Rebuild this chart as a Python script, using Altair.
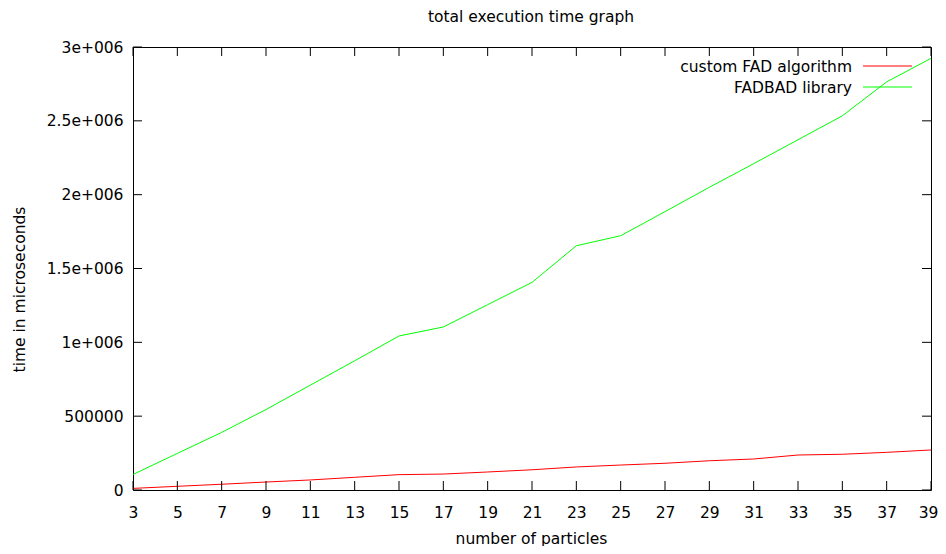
import altair as alt
import pandas as pd

# ---- data ----
particles = [3, 5, 7, 9, 11, 13, 15, 17, 19, 21, 23, 25, 27, 29, 31, 33, 35, 37, 39]
custom_fad = [11000, 25000, 39000, 54000, 68000, 86000, 104000, 108000, 122000, 137000,
              156000, 169000, 181000, 198000, 210000, 237000, 242000, 255000, 271000]
fadbad = [105000, 248000, 390000, 545000, 710000, 875000, 1043000, 1104000, 1255000, 1406000,
          1654000, 1722000, 1885000, 2050000, 2210000, 2372000, 2534000, 2764000, 2923000]
series_names = ["custom FAD algorithm", "FADBAD library"]
series_colors = ["#ff0000", "#00ff00"]
x_ticks = [3, 5, 7, 9, 11, 13, 15, 17, 19, 21, 23, 25, 27, 29, 31, 33, 35, 37, 39]
y_ticks = [0, 500000, 1000000, 1500000, 2000000, 2500000, 3000000]
chart_title = ["total execution time graph"]

FONT = "DejaVu Sans"
FS = 15.5
W, H = 798, 443
TICK = 9

rows = []
for p, c, f in zip(particles, custom_fad, fadbad):
    rows.append({"particles": p, "time": c, "series": series_names[0]})
    rows.append({"particles": p, "time": f, "series": series_names[1]})
df = pd.DataFrame(rows)
xt = pd.DataFrame({"particles": x_ticks})
yt = pd.DataFrame({"time": y_ticks})
tt = pd.DataFrame({"label": chart_title})

xscale = alt.Scale(domain=[3, 39], nice=False, zero=False)
yscale = alt.Scale(domain=[0, 3000000], nice=False)
cscale = alt.Scale(domain=series_names, range=series_colors)

lines = alt.Chart(df).mark_line(strokeWidth=1, clip=True).encode(
    x=alt.X("particles:Q", scale=xscale,
            axis=alt.Axis(values=x_ticks, format="d", title="number of particles",
                          ticks=False, domain=False, grid=False,
                          labelFont=FONT, labelFontSize=FS, labelColor="black",
                          labelPadding=15, labelFlush=False,
                          labelOffset={"condition": {"test": f"datum.value == {x_ticks[-1]}", "value": -3},
                                       "value": 0},
                          titleFont=FONT, titleFontSize=FS, titleFontWeight="normal",
                          titleColor="black", titleBaseline="alphabetic",
                          titleY=53, titleX=W / 2 - 1)),
    y=alt.Y("time:Q", scale=yscale,
            axis=alt.Axis(values=y_ticks,
                          labelExpr="datum.value >= 1000000 ? format(datum.value/1000000, '') + 'e+006' : format(datum.value, 'd')",
                          title="time in microseconds",
                          ticks=False, domain=False, grid=False,
                          labelFont=FONT, labelFontSize=FS, labelColor="black",
                          labelPadding=10, labelFlush=False,
                          titleFont=FONT, titleFontSize=FS, titleFontWeight="normal",
                          titleColor="black", titleAngle=270, titleAlign="center",
                          titleBaseline="alphabetic", titleX=-109, titleY=242)),
    color=alt.Color("series:N", scale=cscale, legend=None),
)

tick_style = dict(color="black", strokeWidth=1)
bottom = alt.Chart(xt).mark_rule(**tick_style).encode(
    x=alt.X("particles:Q"), y=alt.value(H), y2=alt.value(H - TICK))
top = alt.Chart(xt).mark_rule(**tick_style).encode(
    x=alt.X("particles:Q"), y=alt.value(0), y2=alt.value(TICK))
left = alt.Chart(yt).mark_rule(**tick_style).encode(
    y=alt.Y("time:Q"), x=alt.value(0), x2=alt.value(TICK))
right = alt.Chart(yt).mark_rule(**tick_style).encode(
    y=alt.Y("time:Q"), x=alt.value(W), x2=alt.value(W - TICK))
title = alt.Chart(tt).mark_text(font=FONT, fontSize=FS, color="black", align="center",
                                baseline="alphabetic").encode(
    text="label:N", x=alt.value(W / 2 - 1), y=alt.value(-25))

# key (legend) in the top-right corner, gnuplot style: label then line sample
key_layers = []
for i, name in enumerate(series_names):
    kd = pd.DataFrame({"series": [name]})
    key_layers.append(alt.Chart(kd).mark_text(font=FONT, fontSize=FS, color="black",
                                              align="right", baseline="middle").encode(
        text="series:N", x=alt.value(719), y=alt.value(20 + 21 * i)))
    key_layers.append(alt.Chart(kd).mark_rule(strokeWidth=1).encode(
        color=alt.Color("series:N", scale=cscale, legend=None),
        x=alt.value(730), x2=alt.value(779), y=alt.value(19 + 21 * i)))

chart = alt.layer(lines, bottom, top, left, right, title, *key_layers).properties(
    width=W, height=H,
    autosize=alt.AutoSizeParams(type="none"),
    padding={"left": 125, "top": 39, "right": 7, "bottom": 56},
).configure(background="white").configure_view(stroke="black", strokeWidth=1)

chart.save("out.html", embed_options={"renderer": "svg", "actions": False})
